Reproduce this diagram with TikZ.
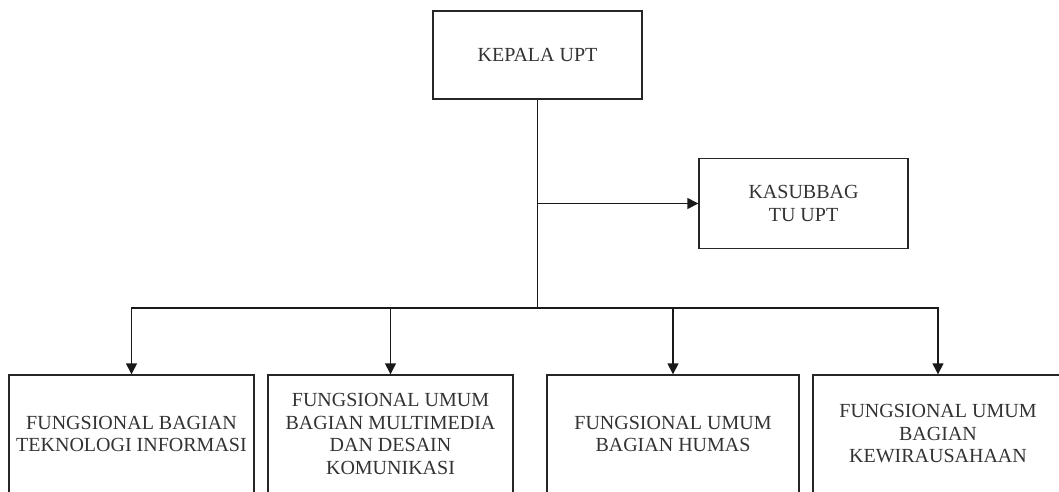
\documentclass[tikz,border=0pt]{standalone}
\usepackage{fontspec}
\setmainfont{Liberation Serif}
\usetikzlibrary{arrows.meta}
\begin{document}
\begin{tikzpicture}[x=1pt,y=-1pt,
  box/.style={draw=black!85, line width=1.4pt, fill=white, align=center, inner sep=0pt,
    text=black!80, font=\fontsize{20}{22.5}\selectfont},
  conn/.style={draw=black!90, line width=1.4pt},
  arr/.style={conn, -{Triangle[length=11pt,width=11pt]}}]
\useasboundingbox (0,0) rectangle (1059,491);
\clip (0,0) rectangle (1059,491);
\fill[white] (0,0) rectangle (1059,491);
\node[box, minimum width=209pt, minimum height=88pt] (kepala) at (537.5,55) {KEPALA UPT};
\node[box, minimum width=209pt, minimum height=90pt] (kasub) at (803.5,203.5) {KASUBBAG\\TU UPT};
\node[box, minimum width=245pt, minimum height=118pt] (b1) at (131.5,434) {FUNGSIONAL BAGIAN\\TEKNOLOGI INFORMASI};
\node[box, minimum width=245pt, minimum height=118pt] (b2) at (390.5,434) {FUNGSIONAL UMUM\\BAGIAN MULTIMEDIA\\DAN DESAIN\\KOMUNIKASI};
\node[box, minimum width=252pt, minimum height=118pt] (b3) at (673,434) {FUNGSIONAL UMUM\\BAGIAN HUMAS};
\node[box, minimum width=250pt, minimum height=118pt] (b4) at (938,434) {FUNGSIONAL UMUM\\BAGIAN\\KEWIRAUSAHAAN};
\coordinate (j1) at (kepala.south |- kasub.west);
\coordinate (j2) at (537.5,308);
\draw[conn] (kepala.south) -- (j2);
\draw[arr] (j1) -- (kasub.west);
\draw[arr] (j2) -| (b1.north);
\draw[arr] (j2) -| (b2.north);
\draw[arr] (j2) -| (b3.north);
\draw[arr] (j2) -| (b4.north);
\end{tikzpicture}
\end{document}
